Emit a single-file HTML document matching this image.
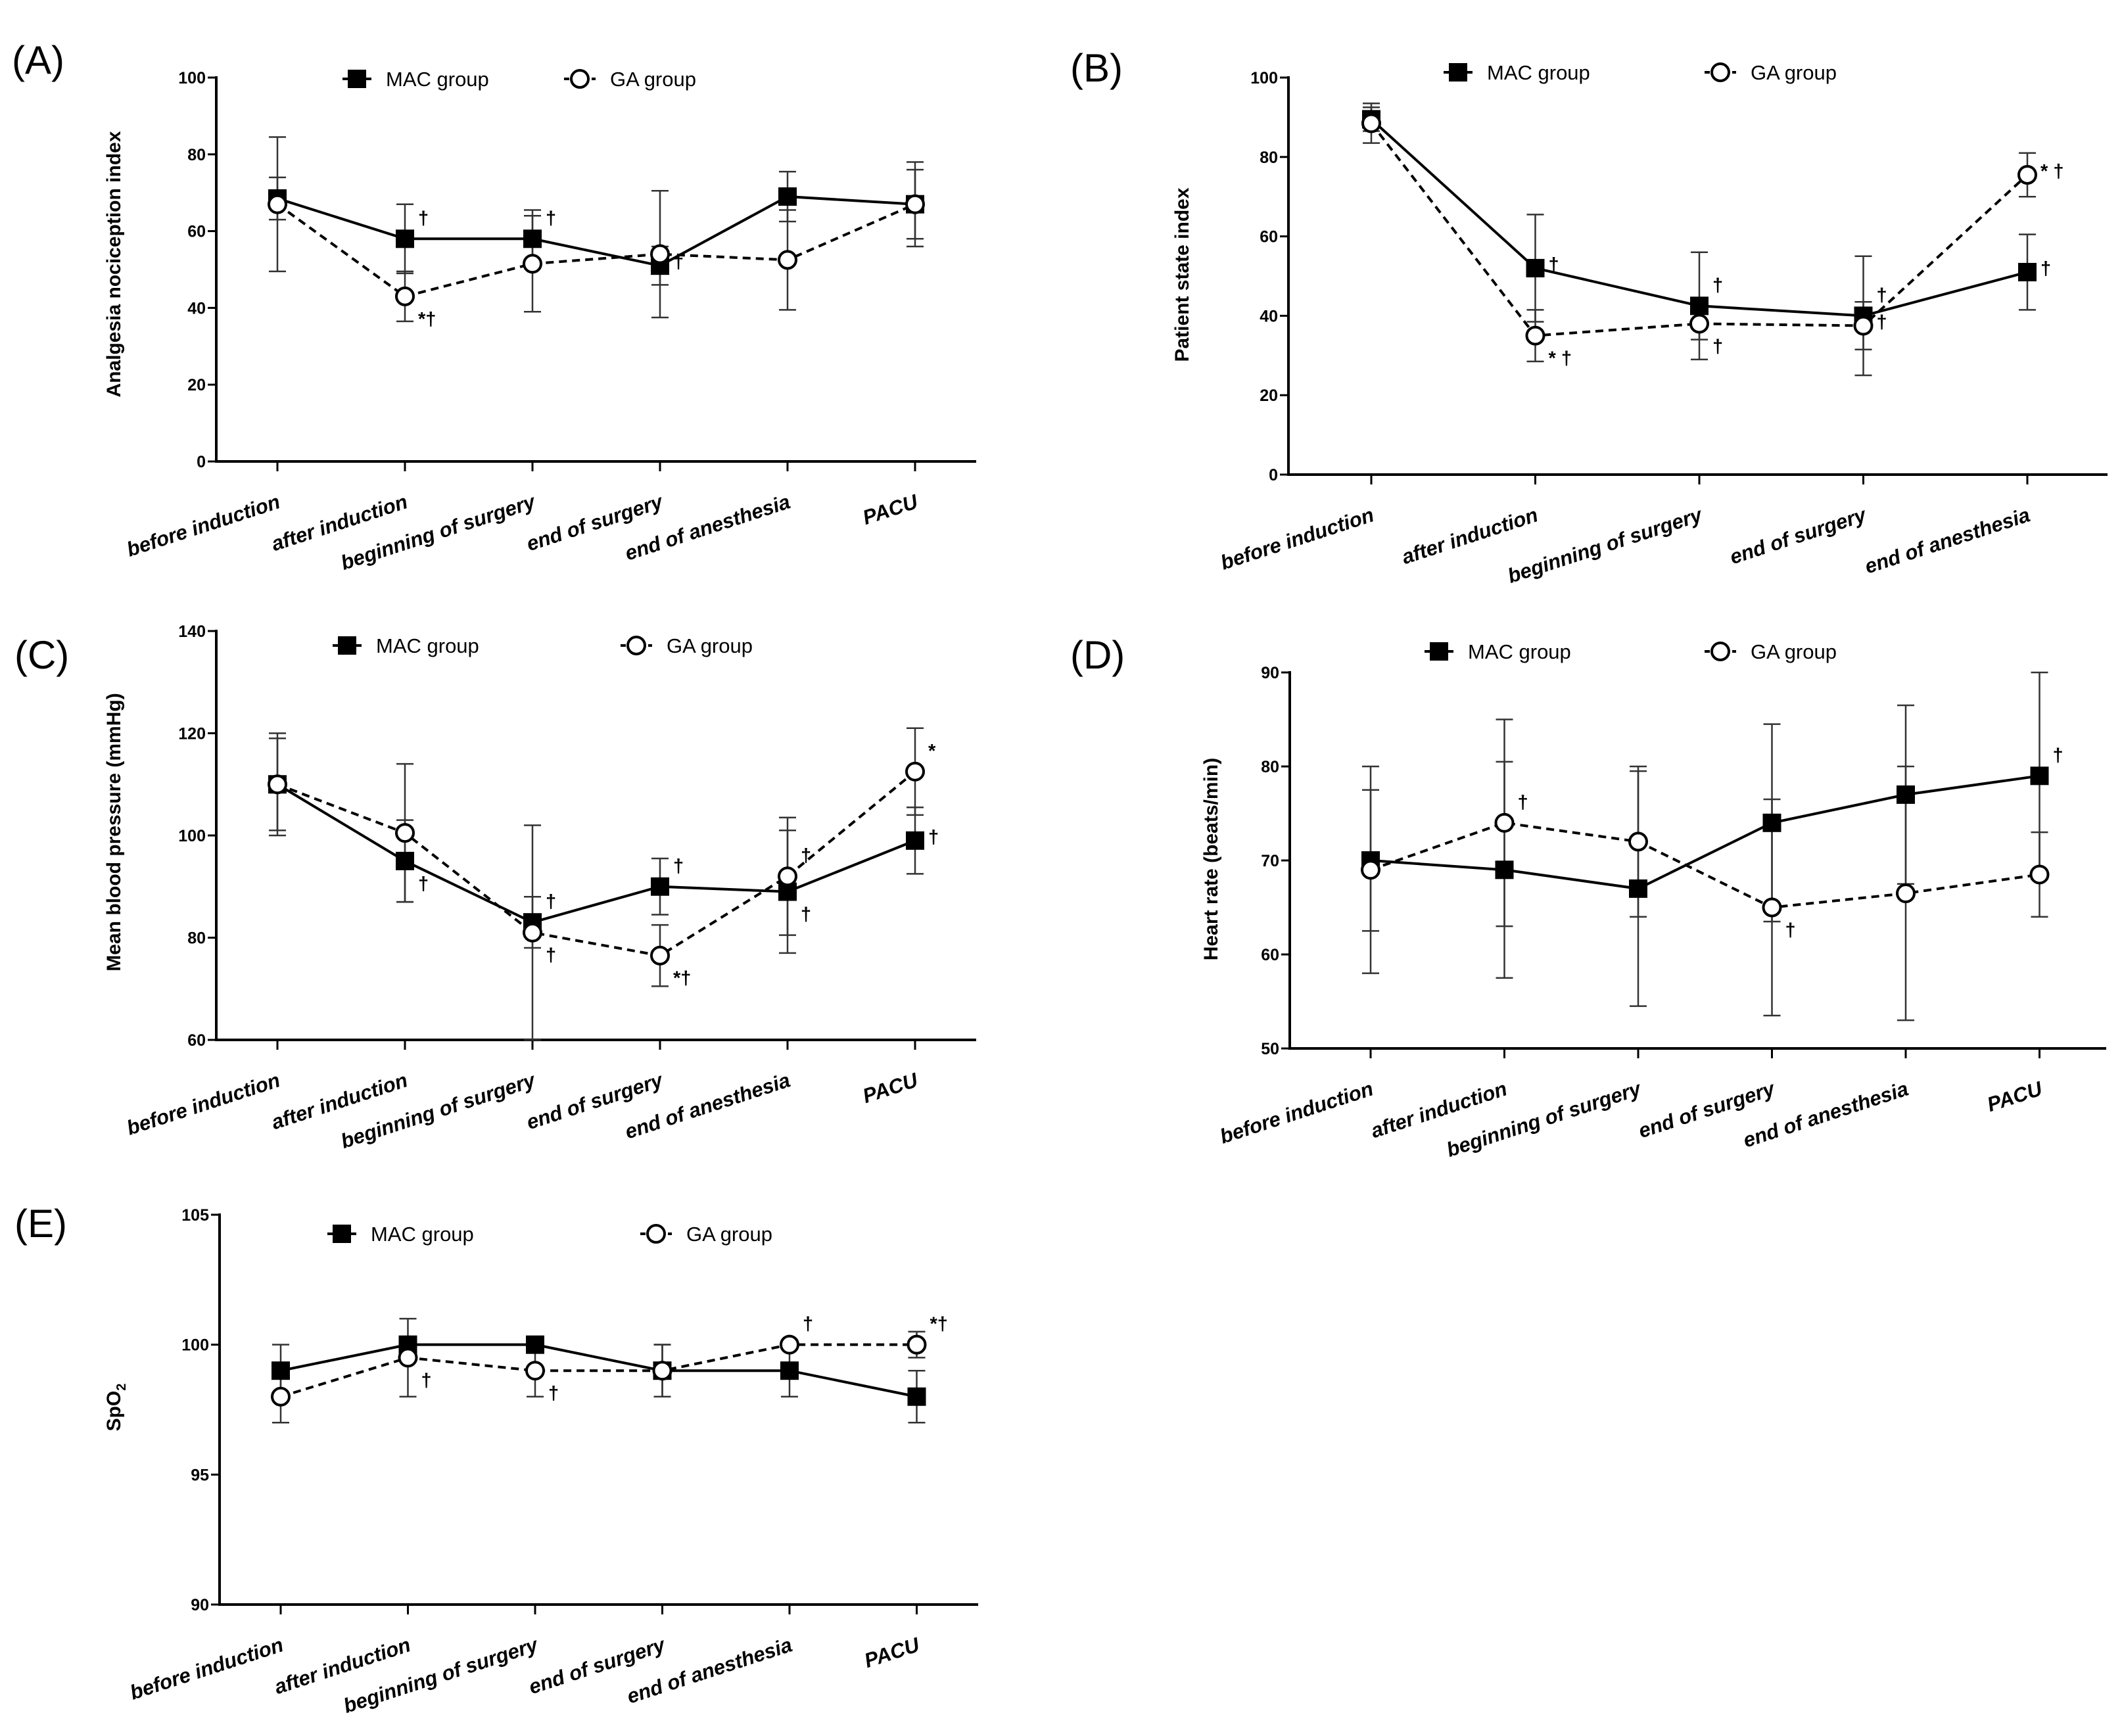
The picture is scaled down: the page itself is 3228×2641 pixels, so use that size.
<!DOCTYPE html>
<html><head><meta charset="utf-8"><title>Perioperative monitoring: MAC group vs GA group</title>
<style>
html,body{margin:0;padding:0;background:#fff;}
svg{display:block;font-family:"Liberation Sans",Arial,sans-serif;}
.tick{font-weight:bold;font-size:25px;}
.cat{font-weight:bold;font-style:italic;font-size:31px;}
.leg{font-size:31px;}
.ytitle{font-weight:bold;font-size:30px;}
.plab{font-size:60px;}
.ann{font-size:29px;font-weight:bold;}
</style></head>
<body>
<svg id="fig" width="3228" height="2641" viewBox="0 0 3228 2641" xmlns="http://www.w3.org/2000/svg"></svg>
<script>
// ---- data ----
const cats6 = ["before induction","after induction","beginning of surgery","end of surgery","end of anesthesia","PACU"];
const cats5 = ["before induction","after induction","beginning of surgery","end of surgery","end of anesthesia"];

const aTicks = [0,20,40,60,80,100];
const aMac = [68.5,58,58,51,69,67];
const aMacSd = [5.5,9,7.5,5,6.5,9];
const aGa = [67,43,51.5,54,52.5,67];
const aGaSd = [17.5,6.5,12.5,16.5,13,11];
const aMacAnn = ["","†","†","†","",""];
const aMacPos = ["","u","u","r","",""];
const aGaAnn = ["","*†","","","",""];
const aGaPos = ["","d","","","",""];

const bTicks = [0,20,40,60,80,100];
const bMac = [89.5,52,42.5,40,51];
const bMacSd = [3,13.5,13.5,15,9.5];
const bGa = [88.5,35,38,37.5,75.5];
const bGaSd = [5,6.5,4,6,5.5];
const bMacAnn = ["","†","†","†","†"];
const bMacPos = ["","r","u","u","r"];
const bGaAnn = ["","* †","†","†","* †"];
const bGaPos = ["","d","d","r","r"];

const cTicks = [60,80,100,120,140];
const cMac = [110,95,83,90,89,99];
const cMacSd = [9,8,5,5.5,12,6.5];
const cGa = [110,100.5,81,76.5,92,112.5];
const cGaSd = [10,13.5,21,6,11.5,8.5];
const cMacAnn = ["","†","†","†","†","†"];
const cMacPos = ["","d","u","u","d","r"];
const cGaAnn = ["","","†","*†","†","*"];
const cGaPos = ["","","d","d","u","u"];

const dTicks = [50,60,70,80,90];
const dMac = [70,69,67,74,77,79];
const dMacSd = [7.5,11.5,12.5,10.5,9.5,11];
const dGa = [69,74,72,65,66.5,68.5];
const dGaSd = [11,11,8,11.5,13.5,4.5];
const dMacAnn = ["","","","","","†"];
const dMacPos = ["","","","","","u"];
const dGaAnn = ["","†","","†","",""];
const dGaPos = ["","u","","d","",""];

const eTicks = [90,95,100,105];
const eMac = [99,100,100,99,99,98];
const eMacSd = [1,0,0,1,1,1];
const eGa = [98,99.5,99,99,100,100];
const eGaSd = [1,1.5,1,1,0,0.5];
const eMacAnn = ["","","","","",""];
const eMacPos = ["","","","","",""];
const eGaAnn = ["","†","†","","†","*†"];
const eGaPos = ["","d","d","","u","u"];

// ---- rendering ----
const NS = "http://www.w3.org/2000/svg";
const svg = document.getElementById('fig');
function mk(tag, attrs, parent, text){
  const e = document.createElementNS(NS, tag);
  for (const k in attrs) e.setAttribute(k, attrs[k]);
  if (text !== undefined) e.textContent = text;
  (parent || svg).appendChild(e);
  return e;
}
const annDy = {u: -22, r: 4, d: 44};

function panel(cfg){
  const g = mk('g', {});
  
  
  const lo = cfg.ticks[0], hi = cfg.ticks[cfg.ticks.length-1];
  const y = v => cfg.yBot - (v - lo) / (hi - lo) * (cfg.yBot - cfg.yTop);
  const x = i => cfg.c0 + i * cfg.step;

  const pl = mk('text', {x: cfg.lx, y: cfg.ly, class: 'plab'}, g, '(' + cfg.id.toUpperCase() + ')');
  
  

  const ax = mk('path', {d: `M${cfg.x0},${cfg.yTop-2} L${cfg.x0},${cfg.yBot} L${cfg.xr},${cfg.yBot}`, fill: 'none', stroke: '#000', 'stroke-width': 4}, g);
  
  
  cfg.ticks.forEach(t => {
    mk('line', {x1: cfg.x0-13, x2: cfg.x0, y1: y(t), y2: y(t), stroke: '#000', 'stroke-width': 3}, g);
    const tl = mk('text', {x: cfg.x0-16, y: y(t)+9, 'text-anchor': 'end', class: 'tick'}, g, String(t));
    
    
  });
  cfg.cats.forEach((c, i) => {
    mk('line', {x1: x(i), x2: x(i), y1: cfg.yBot, y2: cfg.yBot+15, stroke: '#000', 'stroke-width': 3}, g);
    const cl = mk('text', {x: x(i)+6, y: cfg.yBot+70, 'text-anchor': 'end', class: 'cat', transform: `rotate(-18 ${x(i)+6} ${cfg.yBot+70})`}, g, c);
    
    
  });
  const yt = mk('text', {x: cfg.tx, y: cfg.ty, 'text-anchor': 'middle', class: 'ytitle', transform: `rotate(-90 ${cfg.tx} ${cfg.ty})`}, g);
  
  
  if (cfg.id === 'e'){
    mk('tspan', {}, yt, 'SpO');
    mk('tspan', {dy: 8, 'font-size': 20}, yt, '2');
  } else yt.textContent = cfg.title;

  const series = [
    {name:'mac', vals: cfg.mac, sd: cfg.macSd, ann: cfg.macAnn, pos: cfg.macPos, dash: null},
    {name:'ga', vals: cfg.ga, sd: cfg.gaSd, ann: cfg.gaAnn, pos: cfg.gaPos, dash: '12 8'}
  ];
  series.forEach(s => {
    s.vals.forEach((v, i) => {
      if (!s.sd[i]) return;
      const eb = mk('path', {d: `M${x(i)},${y(v+s.sd[i])} L${x(i)},${y(v-s.sd[i])} M${x(i)-13},${y(v+s.sd[i])} L${x(i)+13},${y(v+s.sd[i])} M${x(i)-13},${y(v-s.sd[i])} L${x(i)+13},${y(v-s.sd[i])}`, stroke: '#333', 'stroke-width': 2.5, fill: 'none'}, g);
      
      
    });
  });
  series.forEach(s => {
    const d = s.vals.map((v, i) => (i ? 'L' : 'M') + x(i) + ',' + y(v)).join(' ');
    const attrs = {d: d, fill: 'none', stroke: '#000', 'stroke-width': 4};
    if (s.dash) attrs['stroke-dasharray'] = s.dash;
    const ln = mk('path', attrs, g);
    
    
  });
  series.forEach(s => {
    s.vals.forEach((v, i) => {
      let m;
      if (s.name === 'mac') m = mk('rect', {x: x(i)-14, y: y(v)-14, width: 28, height: 28, fill: '#000'}, g);
      else m = mk('circle', {cx: x(i), cy: y(v), r: 13, fill: '#fff', stroke: '#000', 'stroke-width': 4}, g);
      
      
      if (s.ann[i]){
        const at = mk('text', {x: x(i)+20, y: y(v) + annDy[s.pos[i]], class: 'ann'}, g, s.ann[i]);
        
        
      }
    });
  });

  const lg = mk('g', {}, g);
  
  
  const l1 = mk('g', {}, lg);
  
  
  mk('line', {x1: cfg.legX1-22, x2: cfg.legX1+22, y1: cfg.legY, y2: cfg.legY, stroke: '#000', 'stroke-width': 4}, l1);
  mk('rect', {x: cfg.legX1-14, y: cfg.legY-14, width: 28, height: 28, fill: '#000'}, l1);
  mk('text', {x: cfg.legX1+44, y: cfg.legY+11, class: 'leg'}, l1, 'MAC group');
  const l2 = mk('g', {}, lg);
  
  
  mk('line', {x1: cfg.legX2-24, x2: cfg.legX2+24, y1: cfg.legY, y2: cfg.legY, stroke: '#000', 'stroke-width': 4, 'stroke-dasharray': '8 6'}, l2);
  mk('circle', {cx: cfg.legX2, cy: cfg.legY, r: 13, fill: '#fff', stroke: '#000', 'stroke-width': 4}, l2);
  mk('text', {x: cfg.legX2+46, y: cfg.legY+11, class: 'leg'}, l2, 'GA group');
}

panel({id:'a', cats: cats6, ticks: aTicks, mac: aMac, macSd: aMacSd, ga: aGa, gaSd: aGaSd, macAnn: aMacAnn, macPos: aMacPos, gaAnn: aGaAnn, gaPos: aGaPos,
  x0: 329, xr: 1485, yTop: 118, yBot: 702, c0: 422, step: 194, lx: 18, ly: 112, tx: 183, ty: 402,
  title: 'Analgesia nociception index', legX1: 543, legX2: 882, legY: 120});
panel({id:'b', cats: cats5, ticks: bTicks, mac: bMac, macSd: bMacSd, ga: bGa, gaSd: bGaSd, macAnn: bMacAnn, macPos: bMacPos, gaAnn: bGaAnn, gaPos: bGaPos,
  x0: 1960, xr: 3206, yTop: 118, yBot: 722, c0: 2086, step: 249.5, lx: 1628, ly: 124, tx: 1808, ty: 418,
  title: 'Patient state index', legX1: 2218, legX2: 2617, legY: 110});
panel({id:'c', cats: cats6, ticks: cTicks, mac: cMac, macSd: cMacSd, ga: cGa, gaSd: cGaSd, macAnn: cMacAnn, macPos: cMacPos, gaAnn: cGaAnn, gaPos: cGaPos,
  x0: 329, xr: 1485, yTop: 960, yBot: 1582, c0: 422, step: 194, lx: 22, ly: 1017, tx: 183, ty: 1266,
  title: 'Mean blood pressure (mmHg)', legX1: 528, legX2: 968, legY: 982});
panel({id:'d', cats: cats6, ticks: dTicks, mac: dMac, macSd: dMacSd, ga: dGa, gaSd: dGaSd, macAnn: dMacAnn, macPos: dMacPos, gaAnn: dGaAnn, gaPos: dGaPos,
  x0: 1962, xr: 3204, yTop: 1023, yBot: 1595, c0: 2085, step: 203.5, lx: 1628, ly: 1017, tx: 1852, ty: 1307,
  title: 'Heart rate (beats/min)', legX1: 2189, legX2: 2617, legY: 991});
panel({id:'e', cats: cats6, ticks: eTicks, mac: eMac, macSd: eMacSd, ga: eGa, gaSd: eGaSd, macAnn: eMacAnn, macPos: eMacPos, gaAnn: eGaAnn, gaPos: eGaPos,
  x0: 334, xr: 1488, yTop: 1848, yBot: 2441, c0: 427, step: 193.5, lx: 22, ly: 1882, tx: 183, ty: 2141,
  title: 'SpO2', legX1: 520, legX2: 998, legY: 1877});
</script>
</body></html>
